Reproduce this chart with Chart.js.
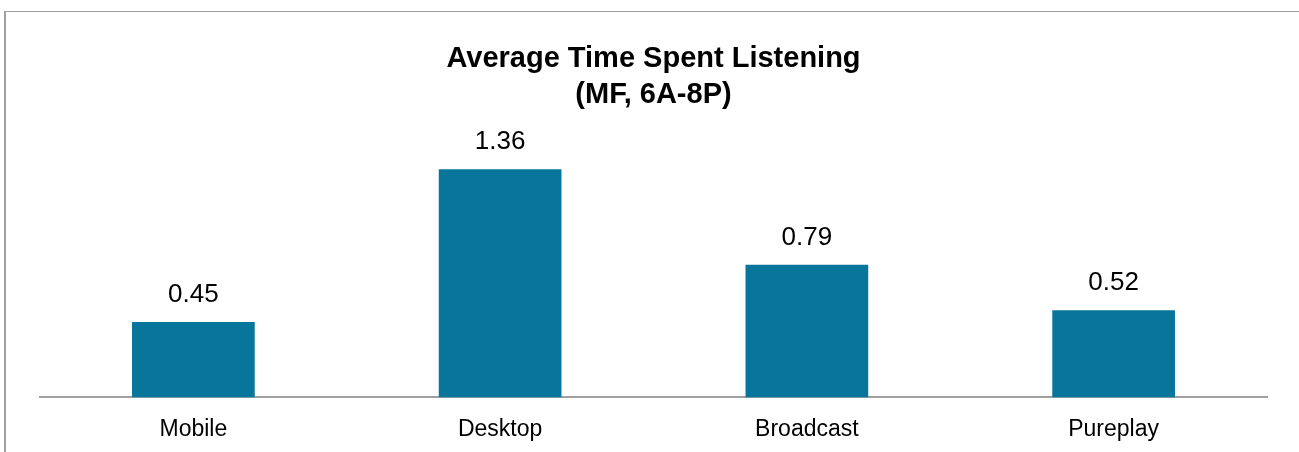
<!DOCTYPE html>
<html>
<head>
<meta charset="utf-8">
<title>Average Time Spent Listening</title>
<script src="https://cdn.jsdelivr.net/npm/chart.js@4/dist/chart.umd.min.js"></script>
<style>
    html, body { margin: 0; padding: 0; background: #fff; overflow: hidden; }
    #wrap { position: relative; width: 1299px; height: 452px; }
    #frame {
        position: absolute; left: 4px; top: 11px; width: 1320px; height: 470px;
        border-left: 2px solid #a0a0a0; border-top: 1px solid #a0a0a0;
    }
    #tslChart { position: absolute; left: 0; top: 0; }
</style>
</head>
<body>
<div id="wrap">
    <div id="frame"></div>
    <canvas id="tslChart" width="1299" height="452"></canvas>
</div>
<script>
const categories = ['Mobile', 'Desktop', 'Broadcast', 'Pureplay'];
const tslValues = [0.45, 1.36, 0.79, 0.52];
const titleLines = ['Average Time Spent Listening', '(MF, 6A-8P)'];

const FONT = "'Liberation Sans', Arial, sans-serif";

// writes the value over each bar
const valueLabels = {
    id: 'valueLabels',
    afterDatasetsDraw(chart) {
        const ctx = chart.ctx;
        const meta = chart.getDatasetMeta(0);
        ctx.save();
        ctx.font = '26px ' + FONT;
        ctx.fillStyle = '#000';
        ctx.textAlign = 'center';
        ctx.textBaseline = 'alphabetic';
        meta.data.forEach((bar, i) => {
            ctx.fillText(tslValues[i].toFixed(2), bar.x, bar.y - 20);
        });
        ctx.restore();
    }
};

new Chart(document.getElementById('tslChart'), {
    type: 'bar',
    data: {
        labels: categories,
        datasets: [{
            data: tslValues,
            backgroundColor: '#08759a',
            barPercentage: 0.4,
            categoryPercentage: 1.0
        }]
    },
    options: {
        responsive: false,
        animation: false,
        layout: { padding: { left: 40, right: 32, top: 41, bottom: -9 } },
        plugins: {
            legend: { display: false },
            tooltip: { enabled: false },
            title: {
                display: true,
                text: titleLines,
                color: '#000',
                font: { family: FONT, size: 29, weight: 'bold', lineHeight: 1.241 },
                padding: { top: 0, bottom: 16 }
            }
        },
        scales: {
            x: {
                grid: { display: false, drawTicks: false },
                border: { display: true, color: '#a0a0a0', width: 2 },
                ticks: {
                    color: '#000',
                    padding: 18,
                    font: { family: FONT, size: 23 }
                }
            },
            y: {
                display: false,
                min: 0,
                max: 1.6
            }
        }
    },
    plugins: [valueLabels]
});
</script>
</body>
</html>
